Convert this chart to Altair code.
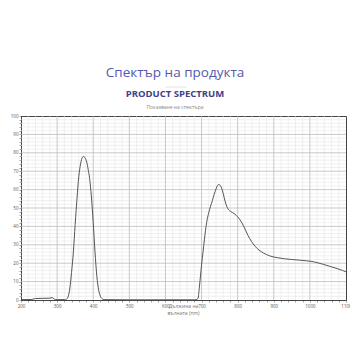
import altair as alt
import pandas as pd

wavelength = [200, 230, 240, 260, 280, 286, 292, 300, 320, 326, 330, 335, 340, 345, 350, 355, 360,
              365, 370, 374, 378, 382, 386, 390, 395, 400, 405, 410, 415, 420, 425, 430, 500, 600,
              680, 685, 690, 694, 697, 700, 704, 708, 714, 720, 725, 730, 735, 740, 744, 748, 752,
              756, 760, 765, 770, 775, 780, 785, 790, 796, 803, 810, 817, 824, 833, 843, 853, 865,
              880, 895, 910, 930, 950, 970, 990, 1000, 1010, 1020, 1037, 1055, 1075, 1090, 1100]
intensity = [0.2, 0.3, 0.8, 0.9, 1.0, 1.3, 0.5, 0.2, 0.2, 0.5, 1.5, 6, 15, 26, 41, 55, 67,
             74, 77.5, 78, 77, 75, 71, 66, 56, 42, 26, 13, 5.5, 2, 0.6, 0.2, 0.1, 0.1,
             0.1, 0.2, 0.8, 7, 13, 19, 26, 33, 42, 47.5, 51, 54, 57.5, 60.3, 62.2, 62.8, 62.2,
             60.5, 57.8, 53.8, 50.7, 49, 48.2, 47.6, 47, 46, 44.5, 42.5, 40, 37, 33.5, 30.5, 28.2, 26.3,
             24.7, 23.6, 23, 22.4, 22, 21.7, 21.3, 21.1, 20.8, 20.3, 19.4, 18.3, 17.1, 16.1, 15.3]

x_major = [300, 400, 500, 600, 700, 800, 900, 1000]
x_minor = [v for v in range(220, 1100, 20) if v % 100 != 0]
y_major = [10, 20, 30, 40, 50, 60, 70, 80, 90]
y_minor = [v for v in range(2, 100, 2) if v % 10 != 0]
x_ticks = list(range(200, 1101, 20))
y_ticks = list(range(0, 101, 2))

title_main = "Спектър на продукта"
title_en = "PRODUCT SPECTRUM"
subtitle = "Показване на спектъра"
xtitle1 = "Дължина на"
xtitle2 = "вълната (nm)"

df = pd.DataFrame({"wl": wavelength, "v": intensity})
xs = alt.Scale(domain=[200, 1100], nice=False)
ys = alt.Scale(domain=[0, 100], nice=False)

axis_common = dict(grid=False, labelFontSize=4.5, labelColor="#555", labelFont="Open Sans",
                   tickSize=2, tickColor="#666", tickWidth=0.6, labelPadding=1, format="d",
                   domainColor="#444", labelFlush=False, labelOverlap=False, title=None)
x_axis = alt.Axis(values=x_ticks, labelExpr="datum.value % 100 == 0 ? datum.label : ''", **axis_common)
y_axis = alt.Axis(values=y_ticks, labelExpr="datum.value % 10 == 0 ? datum.label : ''", **axis_common)

def vrules(vals, color, w):
    return alt.Chart(pd.DataFrame({"x": vals})).mark_rule(color=color, strokeWidth=w).encode(
        x=alt.X("x:Q", scale=xs, axis=x_axis, title=None))

def hrules(vals, color, w):
    return alt.Chart(pd.DataFrame({"y": vals})).mark_rule(color=color, strokeWidth=w).encode(
        y=alt.Y("y:Q", scale=ys, axis=y_axis, title=None))

line = alt.Chart(df).mark_line(color="#555555", strokeWidth=1.0, interpolate="monotone").encode(
    x=alt.X("wl:Q", scale=xs, axis=x_axis, title=None),
    y=alt.Y("v:Q", scale=ys, axis=y_axis, title=None),
)

one = pd.DataFrame({"a": [0]})

def txt(s, x, y, size, color, weight="normal"):
    return alt.Chart(one).mark_text(text=s, fontSize=size, color=color, font="Open Sans",
                                    fontWeight=weight, align="center", baseline="middle").encode(
        x=alt.value(x), y=alt.value(y))

sep = alt.Chart(one).mark_rule(color="#dddddd", strokeWidth=0.8).encode(
    x=alt.value(144), x2=alt.value(166), y=alt.value(-29))

chart = alt.layer(
    vrules(x_minor, "#e6e6e6", 0.6),
    hrules(y_minor, "#e6e6e6", 0.6),
    vrules(x_major, "#bbbbbb", 0.8),
    hrules(y_major, "#bbbbbb", 0.8),
    line,
    txt(title_main, 154, -43, 13.5, "#5558ad"),
    sep,
    txt(title_en, 154, -22, 9.5, "#3d418c", "bold"),
    txt(subtitle, 154, -9, 5, "#888888"),
    txt(xtitle1, 162.5, 190, 5, "#777777"),
    txt(xtitle2, 162.5, 196.5, 5, "#777777"),
).properties(
    width=325, height=184,
    autosize=alt.AutoSizeParams(type="none"),
    padding={"left": 21, "top": 116, "right": 4, "bottom": 50},
    background="white",
).configure_view(stroke="#444444", strokeWidth=1)

chart.save("out.html", embed_options={"renderer": "svg", "actions": False})
